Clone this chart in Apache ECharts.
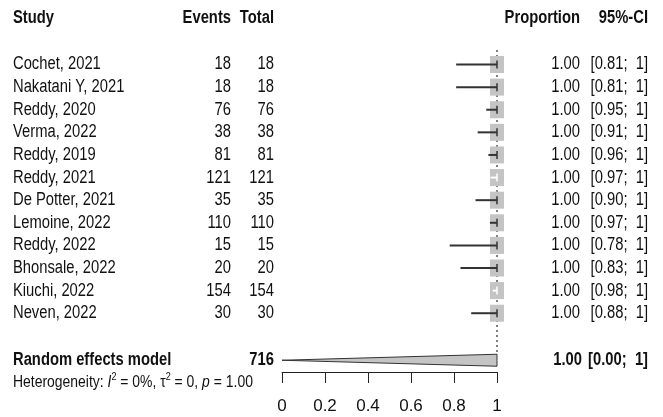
<!DOCTYPE html>
<html>
<head>
<meta charset="utf-8">
<script src="https://cdn.jsdelivr.net/npm/echarts@6/dist/echarts.min.js"></script>
<style>
  html, body { margin: 0; background: #fff; }
  #main { width: 663px; height: 417px; }
</style>
</head>
<body>
<div id="main"></div>
<script>
// study data
var studies = ['Cochet, 2021', 'Nakatani Y, 2021', 'Reddy, 2020', 'Verma, 2022', 'Reddy, 2019',
  'Reddy, 2021', 'De Potter, 2021', 'Lemoine, 2022', 'Reddy, 2022', 'Bhonsale, 2022',
  'Kiuchi, 2022', 'Neven, 2022'];
var events = [18, 18, 76, 38, 81, 121, 35, 110, 15, 20, 154, 30];
var totals = [18, 18, 76, 38, 81, 121, 35, 110, 15, 20, 154, 30];
var proportions = [1, 1, 1, 1, 1, 1, 1, 1, 1, 1, 1, 1];
var ciLower = [0.81, 0.81, 0.95, 0.91, 0.96, 0.970, 0.90, 0.967, 0.78, 0.83, 0.98, 0.88];
var ciUpper = [1, 1, 1, 1, 1, 1, 1, 1, 1, 1, 1, 1];

// pooled (random effects)
var pooledTotal = 716;
var pooledEst = 1;
var pooledLower = 0;
var pooledUpper = 1;
var heterogeneity = { i2: '0%', tau2: '0', p: '1.00' };

var xTicks = [0, 0.2, 0.4, 0.6, 0.8, 1];

// row positions on the (hidden) y axis
var headerRow = -2.05;
var pooledRow = 13.08;
var hetRow = 14.0;

var FONT = '"Liberation Sans", Arial, sans-serif';
var TXT = '#111';
var NARROW = 0.82; // original uses a condensed face

function txt(x, y, s, align, bold, size) {
  return {
    type: 'text',
    x: x, y: y,
    scaleX: NARROW,
    style: {
      text: s,
      fill: TXT,
      fontFamily: FONT,
      fontSize: size || 18,
      fontWeight: bold ? 'bold' : 'normal',
      align: align,
      verticalAlign: 'middle'
    }
  };
}

function fmtCI(lo, hi) {
  return '[' + lo.toFixed(2) + ';  ' + (hi === 1 ? '1' : hi.toFixed(2)) + ']';
}

var myChart = echarts.init(document.getElementById('main'));

var studyData = studies.map(function (s, i) {
  return [i, proportions[i], ciLower[i], ciUpper[i]];
});

var option = {
  backgroundColor: '#fff',
  animation: false,
  grid: { left: 282, right: 166, top: 8, bottom: 45 },
  xAxis: {
    type: 'value',
    position: 'bottom',
    min: 0, max: 1, interval: 0.2,
    axisLine: { show: true, onZero: false, lineStyle: { color: '#222', width: 1 } },
    axisTick: { show: true, length: 11, lineStyle: { color: '#222' } },
    axisLabel: {
      margin: 26, color: TXT, fontFamily: FONT, fontSize: 17,
      formatter: function (v) { return xTicks.indexOf(v) >= 0 ? String(v) : ''; }
    },
    splitLine: { show: false }
  },
  yAxis: {
    type: 'value', inverse: true, min: -2.5, max: 13.6, show: false
  },
  series: [
    {
      // reference line at 1
      type: 'custom',
      clip: false,
      data: [[pooledEst]],
      renderItem: function (params, api) {
        var a = api.coord([api.value(0), -0.64]);
        var b = api.coord([api.value(0), 12.72]);
        return {
          type: 'line',
          shape: { x1: a[0], y1: a[1], x2: b[0], y2: b[1] },
          style: { stroke: '#555', lineWidth: 1.5, lineDash: [2, 3] }
        };
      }
    },
    {
      // study squares and CIs
      type: 'custom',
      clip: false,
      data: studyData,
      renderItem: function (params, api) {
        var i = api.value(0);
        var est = api.coord([api.value(1), i]);
        var lo = api.coord([api.value(2), i]);
        var hi = api.coord([api.value(3), i]);
        var bw = 14, bh = 17;
        var inside = lo[0] >= est[0] - bw / 2;
        var col = inside ? '#ffffff' : '#333333';
        return {
          type: 'group',
          children: [
            { type: 'rect', shape: { x: est[0] - bw / 2, y: est[1] - bh / 2, width: bw, height: bh },
              style: { fill: '#c4c4c4' } },
            { type: 'line', shape: { x1: lo[0], y1: lo[1], x2: hi[0], y2: hi[1] },
              style: { stroke: col, lineWidth: 2 } },
            { type: 'line', shape: { x1: est[0], y1: est[1] - 4, x2: est[0], y2: est[1] + 4 },
              style: { stroke: col, lineWidth: 1.5 } }
          ]
        };
      }
    },
    {
      // pooled diamond
      type: 'custom',
      clip: false,
      data: [[pooledRow, pooledEst, pooledLower, pooledUpper]],
      renderItem: function (params, api) {
        var r = api.value(0);
        var e = api.coord([api.value(1), r]);
        var l = api.coord([api.value(2), r]);
        var u = api.coord([api.value(3), r]);
        var h = 6;
        return {
          type: 'polygon',
          shape: { points: [[l[0], l[1]], [e[0], e[1] - h], [u[0], u[1]], [e[0], e[1] + h]] },
          style: { fill: '#c4c4c4', stroke: '#333', lineWidth: 1 }
        };
      }
    },
    {
      // table text
      type: 'custom',
      clip: false,
      silent: true,
      data: [[0]],
      renderItem: function (params, api) {
        var kids = [];
        var yh = api.coord([0, headerRow])[1];
        kids.push(txt(13, yh, 'Study', 'left', true));
        kids.push(txt(231, yh, 'Events', 'right', true));
        kids.push(txt(274, yh, 'Total', 'right', true));
        kids.push(txt(580, yh, 'Proportion', 'right', true));
        kids.push(txt(648, yh, '95%-CI', 'right', true));
        studies.forEach(function (s, i) {
          var y = api.coord([0, i])[1];
          kids.push(txt(13, y, s, 'left'));
          kids.push(txt(231, y, String(events[i]), 'right'));
          kids.push(txt(274, y, String(totals[i]), 'right'));
          kids.push(txt(580, y, proportions[i].toFixed(2), 'right'));
          kids.push(txt(648, y, fmtCI(ciLower[i], ciUpper[i]), 'right'));
        });
        var yp = api.coord([0, pooledRow])[1];
        kids.push(txt(13, yp, 'Random effects model', 'left', true));
        kids.push(txt(274, yp, String(pooledTotal), 'right', true));
        kids.push(txt(582, yp, pooledEst.toFixed(2), 'right', true));
        kids.push(txt(648, yp, fmtCI(pooledLower, pooledUpper), 'right', true));
        var yt = api.coord([0, hetRow])[1];
        kids.push({
          type: 'text',
          x: 13, y: yt,
          scaleX: NARROW,
          style: {
            text: '{n|Heterogeneity: }{i|I}{s|2}{n| = ' + heterogeneity.i2 + ', τ}{s|2}{n| = ' +
              heterogeneity.tau2 + ', }{i|p}{n| = ' + heterogeneity.p + '}',
            fill: TXT,
            align: 'left',
            verticalAlign: 'middle',
            rich: {
              n: { fontFamily: FONT, fontSize: 17, fill: TXT, lineHeight: 20, verticalAlign: 'bottom' },
              i: { fontFamily: FONT, fontSize: 17, fill: TXT, fontStyle: 'italic', lineHeight: 20, verticalAlign: 'bottom' },
              s: { fontFamily: FONT, fontSize: 11, fill: TXT, lineHeight: 20, verticalAlign: 'top' }
            }
          }
        });
        return { type: 'group', children: kids };
      }
    }
  ]
};

myChart.setOption(option);
</script>
</body>
</html>
